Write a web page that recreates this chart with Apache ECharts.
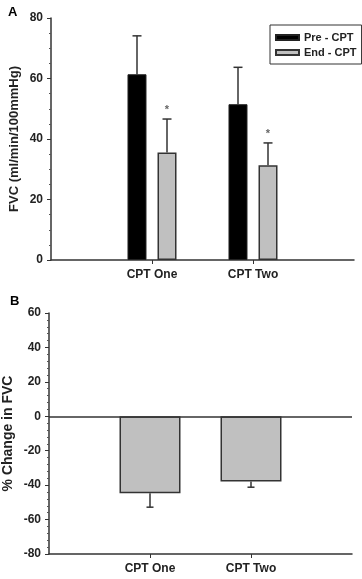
<!DOCTYPE html>
<html>
<head>
<meta charset="utf-8">
<script src="https://cdn.jsdelivr.net/npm/echarts@6/dist/echarts.min.js"></script>
<style>
  html, body { margin: 0; padding: 0; background: #fff; }
  #chart { width: 362px; height: 579px; }
</style>
</head>
<body>
<div id="chart"></div>
<script>
// panel A: FVC before / at end of the cold pressor test
const categories = ['CPT One', 'CPT Two']
const catPos = [1, 2]
const preMean = [61.4, 51.5]
const preErr = [74.1, 63.7]
const endMean = [35.5, 31.3]
const endErr = [46.6, 38.7]
const starred = [true, true]

// panel B: % change in FVC
const changeMean = [-44.7, -37.9]
const changeErr = [-52.8, -41.2]

const fontFam = '"Liberation Sans", Arial, sans-serif'
const axisCol = '#333'

function catLabel (v) {
  const i = catPos.indexOf(v)
  return i >= 0 ? categories[i] : ''
}

// error bar drawn from the bar top to the error value, shifted to its bar
function errorBars (offset, capW, withStar) {
  return function (params, api) {
    const x = api.value(0)
    const top = api.coord([x, api.value(1)])
    const err = api.coord([x, api.value(2)])
    const cx = top[0] + offset
    const style = { stroke: '#333', lineWidth: 1.5 }
    const children = [
      { type: 'line', shape: { x1: cx, y1: top[1], x2: cx, y2: err[1] }, style },
      { type: 'line', shape: { x1: cx - capW / 2, y1: err[1], x2: cx + capW / 2, y2: err[1] }, style }
    ]
    if (withStar && starred[params.dataIndex]) {
      children.push({
        type: 'text',
        style: {
          text: '*', x: cx, y: err[1] - 9, align: 'center', verticalAlign: 'middle',
          fill: '#666', font: 'bold 11px ' + fontFam
        }
      })
    }
    return { type: 'group', children }
  }
}

function xAxisOpts (gridIndex) {
  return {
    gridIndex,
    type: 'value',
    min: 0,
    max: 3,
    splitLine: { show: false },
    axisLine: { show: true, onZero: false, lineStyle: { color: axisCol, width: 1.5 } },
    axisTick: { show: true, length: 4, customValues: catPos, lineStyle: { color: axisCol } },
    axisLabel: {
      customValues: catPos,
      formatter: catLabel,
      margin: 9,
      color: '#222',
      fontSize: 12,
      fontWeight: 'bold',
      fontFamily: fontFam
    }
  }
}

function yAxisOpts (gridIndex, min, max, interval, splitNumber, name, nameGap, nameSize) {
  return {
    gridIndex,
    type: 'value',
    min, max, interval,
    name,
    nameLocation: 'middle',
    nameGap,
    nameMoveOverlap: false,
    nameTextStyle: { color: '#222', fontSize: nameSize, fontWeight: 'bold', fontFamily: fontFam },
    splitLine: { show: false },
    axisLine: { show: true, lineStyle: { color: axisCol, width: 1.5 } },
    axisTick: { show: true, length: 4, lineStyle: { color: axisCol } },
    minorTick: { show: true, splitNumber, length: 2, lineStyle: { color: '#555' } },
    axisLabel: { margin: 8, color: '#222', fontSize: 12, fontWeight: 'bold', fontFamily: fontFam }
  }
}

const chart = echarts.init(document.getElementById('chart'), null, { renderer: 'canvas' })

const option = {
  animation: false,
  backgroundColor: '#fff',
  title: [
    { text: 'A', left: 3, top: 1, textStyle: { fontSize: 13, fontWeight: 'bold', fontFamily: fontFam, color: '#000' } },
    { text: 'B', left: 5, top: 290, textStyle: { fontSize: 13, fontWeight: 'bold', fontFamily: fontFam, color: '#000' } }
  ],
  legend: {
    data: ['Pre - CPT', 'End - CPT'],
    orient: 'vertical',
    left: 270,
    top: 25,
    padding: [7, 5, 6, 5],
    itemGap: 4,
    itemWidth: 23,
    itemHeight: 5,
    icon: 'rect',
    borderColor: '#333',
    borderWidth: 1,
    borderRadius: 0,
    textStyle: { color: '#222', fontSize: 11, fontWeight: 'bold', fontFamily: fontFam }
  },
  grid: [
    { left: 51, top: 18, width: 303, height: 242, outerBoundsMode: 'none', containLabel: false },
    { left: 49, top: 313, width: 303, height: 241, outerBoundsMode: 'none', containLabel: false }
  ],
  xAxis: [xAxisOpts(0), xAxisOpts(1)],
  yAxis: [
    yAxisOpts(0, 0, 80, 20, 4, 'FVC (ml/min/100mmHg)', 30, 13),
    yAxisOpts(1, -80, 60, 20, 5, '% Change in FVC', 34, 14)
  ],
  series: [
    {
      name: 'Pre - CPT',
      type: 'bar',
      xAxisIndex: 0, yAxisIndex: 0,
      barWidth: 19,
      barGap: '58%',
      itemStyle: { color: '#000', borderColor: '#222', borderWidth: 1 },
      data: catPos.map((x, i) => [x, preMean[i]])
    },
    {
      name: 'End - CPT',
      type: 'bar',
      xAxisIndex: 0, yAxisIndex: 0,
      barWidth: 19,
      barGap: '58%',
      itemStyle: { color: '#c0c0c0', borderColor: '#333', borderWidth: 1.5 },
      data: catPos.map((x, i) => [x, endMean[i]])
    },
    {
      type: 'custom',
      xAxisIndex: 0, yAxisIndex: 0,
      renderItem: errorBars(-15, 9, false),
      data: catPos.map((x, i) => [x, preMean[i], preErr[i]]),
      z: 1
    },
    {
      type: 'custom',
      xAxisIndex: 0, yAxisIndex: 0,
      renderItem: errorBars(15, 9, true),
      data: catPos.map((x, i) => [x, endMean[i], endErr[i]]),
      z: 1
    },
    {
      name: 'Change',
      type: 'bar',
      xAxisIndex: 1, yAxisIndex: 1,
      barWidth: 61,
      itemStyle: { color: '#c0c0c0', borderColor: '#333', borderWidth: 1.5 },
      data: catPos.map((x, i) => [x, changeMean[i]]),
      markLine: {
        silent: true,
        symbol: 'none',
        label: { show: false },
        lineStyle: { color: axisCol, type: 'solid', width: 1.5 },
        data: [{ yAxis: 0 }]
      }
    },
    {
      type: 'custom',
      xAxisIndex: 1, yAxisIndex: 1,
      renderItem: errorBars(0, 7, false),
      data: catPos.map((x, i) => [x, changeMean[i], changeErr[i]]),
      z: 1
    }
  ]
}

chart.setOption(option)
</script>
</body>
</html>
